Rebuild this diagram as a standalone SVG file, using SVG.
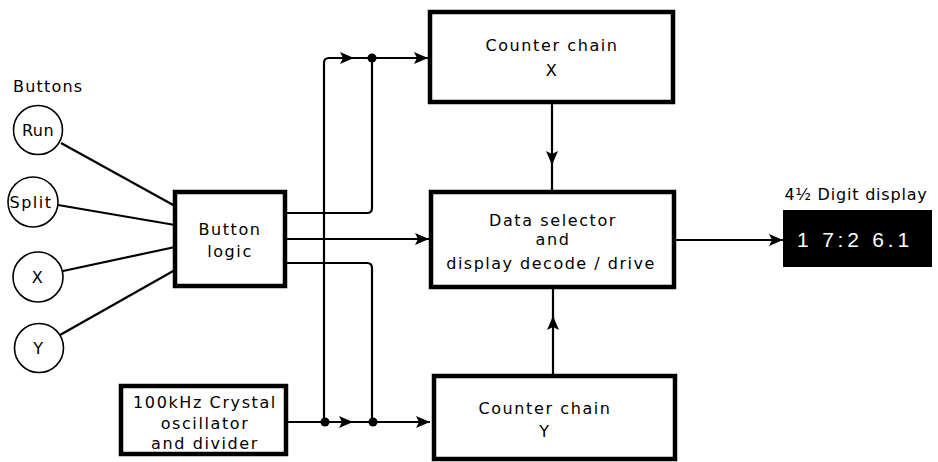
<svg xmlns="http://www.w3.org/2000/svg" width="938" height="462" viewBox="0 0 938 462">
<defs>
<marker id="ah" viewBox="0 0 14 12" refX="14" refY="6" markerWidth="14" markerHeight="12" markerUnits="userSpaceOnUse" orient="auto">
<path d="M0,0 L14,6 L0,12 L3,6 Z" fill="#000"/>
</marker>
<style>
text{font-family:"DejaVu Sans","Liberation Sans",sans-serif;font-size:16px;fill:#000;letter-spacing:1.6px;text-anchor:middle}
.box{fill:#fff;stroke:#000;stroke-width:4.5}
.btn{fill:#fff;stroke:#000;stroke-width:1.6}
.w{fill:none;stroke:#000;stroke-width:2.2}
.dot{fill:#000}
</style>
</defs>
<rect width="938" height="462" fill="#fff"/>
<g id="connectors">
<line class="w" x1="61" y1="143" x2="175" y2="206"/>
<line class="w" x1="58" y1="205" x2="175" y2="225"/>
<line class="w" x1="63" y1="271" x2="175" y2="247"/>
<line class="w" x1="60" y1="335" x2="175" y2="270"/>
<path class="w" d="M286,213 H367 Q372,213 372,208 V58"/>
<path class="w" d="M286,263 H367 Q372,263 372,268 V422"/>
<path class="w" d="M324,422 V63 Q324,58 329,58 H354" marker-end="url(#ah)"/>
<path class="w" d="M350,58 H428" marker-end="url(#ah)"/>
<path class="w" d="M286,239 H429" marker-end="url(#ah)"/>
<path class="w" d="M287,422 H353" marker-end="url(#ah)"/>
<path class="w" d="M350,422 H430" marker-end="url(#ah)"/>
<path class="w" d="M552,103 V165" marker-end="url(#ah)"/>
<path class="w" d="M552,160 V191"/>
<path class="w" d="M553,374 V316" marker-end="url(#ah)"/>
<path class="w" d="M553,320 V288"/>
<path class="w" d="M675,240 H783" marker-end="url(#ah)"/>
<circle class="dot" cx="372" cy="58" r="4.5"/>
<circle class="dot" cx="325" cy="422" r="4.5"/>
<circle class="dot" cx="373" cy="422" r="4.5"/>
</g>
<g id="buttons-label"><text x="13" y="92" style="text-anchor:start;letter-spacing:1.2px">Buttons</text></g>
<g id="btn-run"><circle class="btn" cx="38" cy="130" r="24.5"/><text x="38" y="136" style="letter-spacing:0.5px">Run</text></g>
<g id="btn-split"><circle class="btn" cx="33" cy="202" r="25"/><text x="31" y="208" style="letter-spacing:1.5px">Split</text></g>
<g id="btn-x"><circle class="btn" cx="38" cy="277" r="25"/><text x="38" y="283">X</text></g>
<g id="btn-y"><circle class="btn" cx="39" cy="348" r="24.5"/><text x="39" y="354">Y</text></g>
<g id="button-logic"><rect class="box" x="175" y="192" width="110" height="94"/><text x="230" y="235">Button</text><text x="230" y="257">logic</text></g>
<g id="crystal"><rect class="box" x="121" y="386" width="165" height="68"/><text x="205" y="408">100kHz Crystal</text><text x="205" y="429">oscillator</text><text x="205" y="449">and divider</text></g>
<g id="counter-x"><rect class="box" x="430" y="12" width="243" height="90"/><text x="552" y="51">Counter chain</text><text x="552" y="76">X</text></g>
<g id="data-selector"><rect class="box" x="431" y="192" width="243" height="95"/><text x="553" y="226">Data selector</text><text x="553" y="245">and</text><text x="551" y="269" style="letter-spacing:1.5px">display decode / drive</text></g>
<g id="counter-y"><rect class="box" x="434" y="376" width="241" height="83"/><text x="545" y="414">Counter chain</text><text x="545" y="437">Y</text></g>
<g id="display"><text x="856" y="200" style="letter-spacing:0.8px">4½ Digit display</text><rect x="783" y="210" width="149" height="57" fill="#000"/><text x="855" y="247" style="font-family:'Liberation Sans',sans-serif;fill:#fff;font-size:21px;letter-spacing:3.8px">1 7:2 6.1</text></g>
</svg>
